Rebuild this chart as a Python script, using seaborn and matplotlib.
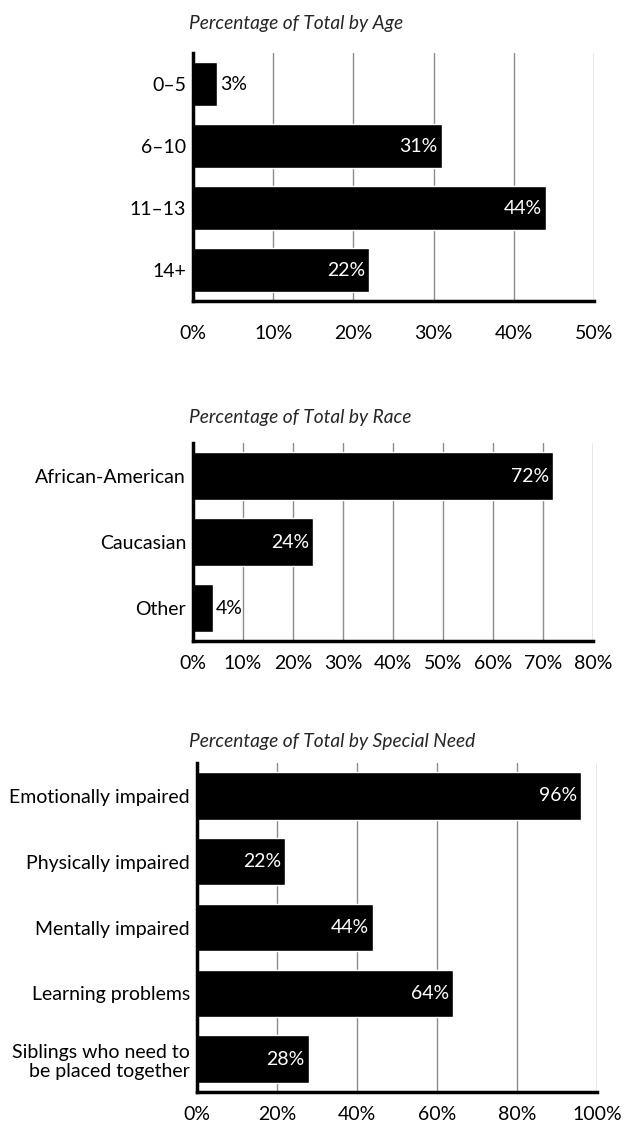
import matplotlib
matplotlib.use("Agg")
import matplotlib.pyplot as plt
import seaborn as sns

# data
age_labels = ["0–5", "6–10", "11–13", "14+"]
age_values = [3, 31, 44, 22]

race_labels = ["African-American", "Caucasian", "Other"]
race_values = [72, 24, 4]

need_labels = ["Emotionally impaired", "Physically impaired", "Mentally impaired",
               "Learning problems", "Siblings who need to\nbe placed together"]
need_values = [96, 22, 44, 64, 28]

sns.set_style("white")
plt.rcParams["font.family"] = ["Lato", "DejaVu Sans"]

W, H = 624, 1124
fig = plt.figure(figsize=(W / 100, H / 100), dpi=100)
FS = 14


def panel(box, labels, values, xmax, step, title, title_y, xpad):
    l, t, r, b = box
    ax = fig.add_axes([l / W, 1 - b / H, (r - l) / W, (b - t) / H])
    sns.barplot(x=values, y=labels, color="black", saturation=1, width=0.72,
                orient="h", ax=ax)
    ax.set_xlim(0, xmax)
    ax.set_ylim(len(labels) - 0.5, -0.5)
    ticks = list(range(0, xmax + 1, step))
    ax.set_xticks(ticks)
    ax.set_xticklabels([f"{t}%" for t in ticks])
    ax.set_xlabel("")
    ax.set_ylabel("")
    ax.grid(axis="x", color="#8c8c8c", lw=1)
    ax.set_axisbelow(True)
    for s in ["top", "right"]:
        ax.spines[s].set_visible(False)
    for s in ["left", "bottom"]:
        ax.spines[s].set_linewidth(2.5)
        ax.spines[s].set_color("black")
        ax.spines[s].set_zorder(5)
    ax.tick_params(axis="both", length=0, labelsize=FS, colors="black")
    ax.tick_params(axis="y", pad=5)
    ax.tick_params(axis="x", pad=xpad)
    for i, v in enumerate(values):
        if v < 10:
            ax.annotate(f"{v}%", (v, i), xytext=(2, 0), textcoords="offset points",
                        ha="left", va="center", fontsize=FS, color="black")
        else:
            ax.annotate(f"{v}%", (v, i), xytext=(-3, 0), textcoords="offset points",
                        ha="right", va="center", fontsize=FS, color="white")
    fig.text(189 / W, 1 - title_y / H, title, fontsize=13.8, style="italic",
             ha="left", va="center")
    return ax


panel((193, 53, 594, 301), age_labels, age_values, 50, 10,
      "Percentage of Total by Age", 23, 17)
panel((193, 443, 593, 641), race_labels, race_values, 80, 10,
      "Percentage of Total by Race", 418, 10)
panel((197, 763, 597, 1092), need_labels, need_values, 100, 20,
      "Percentage of Total by Special Need", 742, 10)

fig.savefig("out.png", dpi=100)
